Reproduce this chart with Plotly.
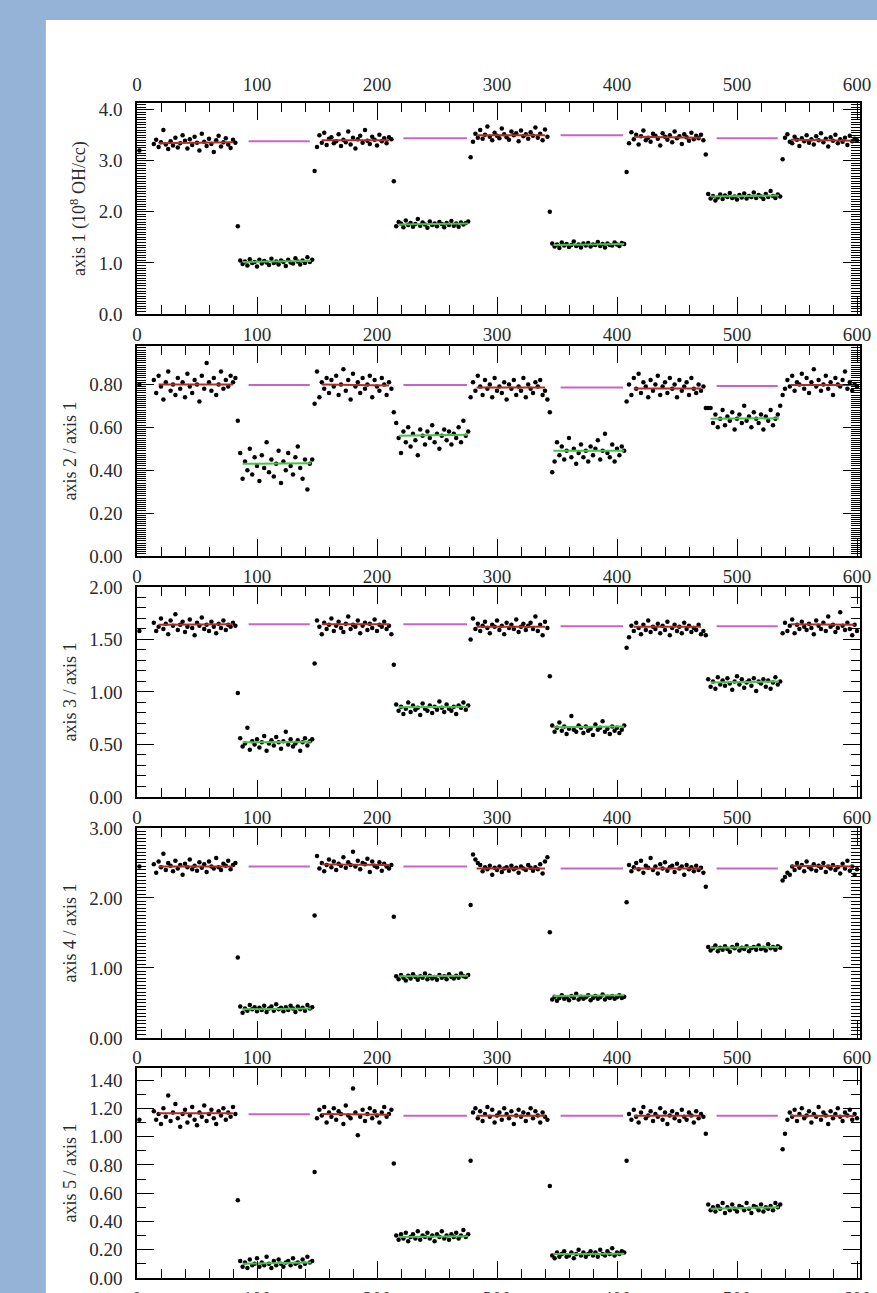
import plotly.graph_objects as go

# sample times (shared by all five panels)
time_x = [2,
    14, 16, 18, 20, 22, 24, 26, 28, 30, 32, 34, 36, 38, 40, 42, 44, 46, 48, 50, 52, 54, 56, 58, 60, 62, 64, 66, 68, 70, 72, 74, 76, 78, 80, 82,
    84,
    86, 88, 90, 92, 94, 96, 98, 100, 102, 104, 106, 108, 110, 112, 114, 116, 118, 120, 122, 124, 126, 128, 130, 132, 134, 136, 138, 140, 142, 144, 146,
    148,
    150, 152, 154, 156, 158, 160, 162, 164, 166, 168, 170, 172, 174, 176, 178, 180, 182, 184, 186, 188, 190, 192, 194, 196, 198, 200, 202, 204, 206, 208, 210, 212,
    214,
    216, 218, 220, 222, 224, 226, 228, 230, 232, 234, 236, 238, 240, 242, 244, 246, 248, 250, 252, 254, 256, 258, 260, 262, 264, 266, 268, 270, 272, 274, 276,
    278,
    280, 282, 284, 286, 288, 290, 292, 294, 296, 298, 300, 302, 304, 306, 308, 310, 312, 314, 316, 318, 320, 322, 324, 326, 328, 330, 332, 334, 336, 338, 340, 342,
    344,
    346, 348, 350, 352, 354, 356, 358, 360, 362, 364, 366, 368, 370, 372, 374, 376, 378, 380, 382, 384, 386, 388, 390, 392, 394, 396, 398, 400, 402, 404, 406,
    408,
    410, 412, 414, 416, 418, 420, 422, 424, 426, 428, 430, 432, 434, 436, 438, 440, 442, 444, 446, 448, 450, 452, 454, 456, 458, 460, 462, 464, 466, 468, 470, 472,
    474,
    476, 478, 480, 482, 484, 486, 488, 490, 492, 494, 496, 498, 500, 502, 504, 506, 508, 510, 512, 514, 516, 518, 520, 522, 524, 526, 528, 530, 532, 534, 536,
    538,
    540, 542, 544, 546, 548, 550, 552, 554, 556, 558, 560, 562, 564, 566, 568, 570, 572, 574, 576, 578, 580, 582, 584, 586, 588, 590, 592, 594, 596, 598, 600]

axis1_y = [3.20,
    3.33, 3.41, 3.27, 3.36, 3.60, 3.32, 3.23, 3.38, 3.30, 3.45, 3.26, 3.34, 3.50, 3.39, 3.24, 3.42, 3.31, 3.47, 3.35, 3.20, 3.53, 3.37, 3.29, 3.43, 3.33, 3.17, 3.40, 3.49, 3.28, 3.36, 3.44, 3.32, 3.25, 3.41, 3.35,
    1.72,
    1.05, 0.98, 1.03, 0.95, 1.07, 1.00, 1.02, 0.93, 1.06, 0.99, 1.04, 1.01, 0.96, 1.08, 1.00, 1.03, 0.97, 1.05, 1.02, 0.94, 1.06, 1.01, 0.99, 1.09, 1.03, 0.97, 1.05, 1.00, 1.11, 1.02, 1.06,
    2.80,
    3.27, 3.50, 3.35, 3.55, 3.31, 3.43, 3.46, 3.34, 3.38, 3.52, 3.29, 3.41, 3.36, 3.57, 3.32, 3.45, 3.24, 3.42, 3.49, 3.35, 3.60, 3.39, 3.33, 3.47, 3.41, 3.30, 3.51, 3.38, 3.44, 3.34, 3.46, 3.42,
    2.60,
    1.72, 1.80, 1.77, 1.70, 1.83, 1.74, 1.78, 1.71, 1.76, 1.86, 1.73, 1.79, 1.75, 1.69, 1.81, 1.74, 1.77, 1.72, 1.80, 1.76, 1.70, 1.78, 1.74, 1.82, 1.73, 1.77, 1.71, 1.79, 1.75, 1.78, 1.81,
    3.07,
    3.37, 3.53, 3.45, 3.60, 3.43, 3.51, 3.67, 3.47, 3.40, 3.55, 3.49, 3.44, 3.63, 3.52, 3.46, 3.41, 3.57, 3.50, 3.54, 3.38, 3.59, 3.48, 3.52, 3.43, 3.56, 3.49, 3.65, 3.45, 3.53, 3.40, 3.61, 3.47,
    2.00,
    1.38, 1.32, 1.36, 1.29, 1.40, 1.34, 1.37, 1.31, 1.35, 1.42, 1.33, 1.36, 1.30, 1.38, 1.34, 1.39, 1.32, 1.36, 1.35, 1.41, 1.33, 1.37, 1.30, 1.38, 1.35, 1.34, 1.40, 1.36, 1.33, 1.39, 1.37,
    2.78,
    3.34, 3.56, 3.42, 3.51, 3.32, 3.48, 3.59, 3.40, 3.45, 3.37, 3.53, 3.49, 3.43, 3.30, 3.54, 3.47, 3.41, 3.50, 3.36, 3.57, 3.44, 3.48, 3.33, 3.52, 3.46, 3.39, 3.55, 3.42, 3.49, 3.44, 3.51, 3.40,
    3.12,
    2.35, 2.26, 2.31, 2.22, 2.28, 2.34, 2.25, 2.32, 2.29, 2.37, 2.27, 2.30, 2.24, 2.33, 2.28, 2.36, 2.26, 2.31, 2.29, 2.38, 2.27, 2.33, 2.30, 2.25, 2.35, 2.29, 2.41, 2.31, 2.27, 2.34, 2.30,
    3.03,
    3.45, 3.52, 3.37, 3.34, 3.47, 3.41, 3.29, 3.44, 3.38, 3.50, 3.35, 3.42, 3.32, 3.48, 3.40, 3.54, 3.36, 3.43, 3.28, 3.46, 3.39, 3.51, 3.34, 3.42, 3.37, 3.45, 3.31, 3.49, 3.38, 3.43, 3.40]

ratio2_y = [0.80,
    0.82, 0.76, 0.84, 0.79, 0.73, 0.81, 0.86, 0.77, 0.80, 0.75, 0.83, 0.78, 0.81, 0.74, 0.85, 0.79, 0.76, 0.82, 0.80, 0.72, 0.84, 0.78, 0.90, 0.81, 0.77, 0.83, 0.75, 0.80, 0.86, 0.78, 0.82, 0.79, 0.84, 0.81, 0.83,
    0.63,
    0.48, 0.36, 0.44, 0.40, 0.50, 0.38, 0.46, 0.42, 0.35, 0.47, 0.41, 0.53, 0.39, 0.45, 0.37, 0.43, 0.49, 0.34, 0.44, 0.40, 0.48, 0.42, 0.38, 0.46, 0.51, 0.41, 0.36, 0.45, 0.31, 0.43, 0.45,
    0.71,
    0.86, 0.74, 0.81, 0.78, 0.83, 0.76, 0.82, 0.79, 0.84, 0.75, 0.80, 0.87, 0.77, 0.82, 0.73, 0.85, 0.79, 0.81, 0.76, 0.83, 0.78, 0.80, 0.84, 0.74, 0.82, 0.79, 0.77, 0.83, 0.80, 0.75, 0.81, 0.78,
    0.67,
    0.62, 0.55, 0.48, 0.58, 0.53, 0.60, 0.51, 0.57, 0.54, 0.47, 0.59, 0.56, 0.52, 0.58, 0.55, 0.61, 0.53, 0.57, 0.50, 0.56, 0.59, 0.54, 0.58, 0.52, 0.57, 0.55, 0.60, 0.53, 0.63, 0.56, 0.58,
    0.74,
    0.81, 0.77, 0.84, 0.79, 0.75, 0.82, 0.78, 0.80, 0.74, 0.83, 0.77, 0.79, 0.76, 0.81, 0.73, 0.80, 0.78, 0.82, 0.75, 0.79, 0.77, 0.83, 0.74, 0.80, 0.78, 0.76, 0.81, 0.79, 0.82, 0.75, 0.77, 0.73,
    0.67,
    0.39, 0.44, 0.53, 0.47, 0.51, 0.45, 0.49, 0.55, 0.46, 0.50, 0.43, 0.48, 0.52, 0.46, 0.49, 0.44, 0.51, 0.47, 0.50, 0.54, 0.45, 0.49, 0.57, 0.48, 0.46, 0.52, 0.44, 0.50, 0.47, 0.51, 0.49,
    0.72,
    0.80, 0.75, 0.83, 0.78, 0.85, 0.76, 0.81, 0.79, 0.74, 0.82, 0.77, 0.80, 0.84, 0.75, 0.79, 0.81, 0.76, 0.83, 0.78, 0.80, 0.74, 0.82, 0.77, 0.79, 0.81, 0.75, 0.83, 0.78, 0.76, 0.80, 0.77, 0.79,
    0.69,
    0.69, 0.69, 0.62, 0.66, 0.60, 0.64, 0.68, 0.61, 0.65, 0.63, 0.67, 0.59, 0.64, 0.66, 0.62, 0.70, 0.63, 0.65, 0.60, 0.67, 0.64, 0.62, 0.66, 0.59, 0.65, 0.63, 0.68, 0.61, 0.64, 0.66, 0.70,
    0.75,
    0.78, 0.82, 0.79, 0.84, 0.77, 0.81, 0.80, 0.85, 0.78, 0.83, 0.76, 0.81, 0.87, 0.79, 0.82, 0.77, 0.80, 0.84, 0.78, 0.81, 0.75, 0.83, 0.80, 0.79, 0.82, 0.86, 0.78, 0.81, 0.77, 0.80, 0.79]

ratio3_y = [1.58,
    1.66, 1.58, 1.62, 1.70, 1.60, 1.65, 1.55, 1.68, 1.63, 1.74, 1.59, 1.64, 1.67, 1.57, 1.62, 1.69, 1.61, 1.54, 1.66, 1.63, 1.71, 1.60, 1.64, 1.58, 1.67, 1.62, 1.56, 1.65, 1.61, 1.68, 1.59, 1.64, 1.62, 1.66, 1.63,
    0.99,
    0.56, 0.48, 0.51, 0.66, 0.45, 0.53, 0.50, 0.55, 0.47, 0.52, 0.58, 0.44, 0.51, 0.54, 0.49, 0.57, 0.52, 0.46, 0.53, 0.62, 0.50, 0.55, 0.48, 0.51, 0.54, 0.44, 0.52, 0.56, 0.49, 0.53, 0.55,
    1.27,
    1.68, 1.62, 1.55, 1.66, 1.60, 1.64, 1.70, 1.58, 1.63, 1.67, 1.61, 1.57, 1.65, 1.72, 1.60, 1.64, 1.62, 1.68, 1.56, 1.63, 1.66, 1.59, 1.65, 1.61, 1.69, 1.58, 1.64, 1.62, 1.67, 1.60, 1.63, 1.55,
    1.26,
    0.88, 0.82, 0.86, 0.79, 0.84, 0.90, 0.81, 0.87, 0.83, 0.85, 0.78, 0.89, 0.84, 0.82, 0.87, 0.80, 0.86, 0.83, 0.91, 0.85, 0.81, 0.88, 0.84, 0.82, 0.86, 0.79, 0.87, 0.85, 0.90, 0.83, 0.87,
    1.50,
    1.70, 1.60, 1.65, 1.58, 1.63, 1.67, 1.61, 1.56, 1.64, 1.62, 1.68, 1.59, 1.63, 1.55, 1.66, 1.61, 1.64, 1.60, 1.69, 1.57, 1.62, 1.65, 1.59, 1.63, 1.66, 1.60, 1.72, 1.58, 1.64, 1.54, 1.67, 1.61,
    1.15,
    0.68, 0.62, 0.66, 0.71, 0.63, 0.67, 0.60, 0.65, 0.77, 0.64, 0.62, 0.68, 0.66, 0.61, 0.67, 0.63, 0.65, 0.59, 0.69, 0.64, 0.66, 0.72, 0.62, 0.65, 0.60, 0.67, 0.63, 0.66, 0.61, 0.64, 0.68,
    1.42,
    1.52, 1.63, 1.58, 1.66, 1.61, 1.55, 1.64, 1.59, 1.68, 1.57, 1.62, 1.60, 1.65, 1.56, 1.63, 1.59, 1.67, 1.54, 1.61, 1.64, 1.58, 1.62, 1.56, 1.66, 1.60, 1.63, 1.57, 1.61, 1.59, 1.64, 1.55, 1.58,
    1.54,
    1.12, 1.05, 1.10, 1.03, 1.14, 1.07, 1.11, 1.06, 1.13, 1.08, 1.02, 1.10, 1.15, 1.07, 1.12, 1.04, 1.09, 1.11, 1.06, 1.13, 1.01, 1.10, 1.08, 1.12, 1.05, 1.11, 1.03, 1.09, 1.14, 1.07, 1.10,
    1.56,
    1.66, 1.58, 1.63, 1.69, 1.56, 1.64, 1.60, 1.67, 1.62, 1.59, 1.65, 1.61, 1.55, 1.68, 1.63, 1.60, 1.66, 1.58, 1.72, 1.62, 1.64, 1.57, 1.61, 1.76, 1.63, 1.59, 1.66, 1.60, 1.54, 1.64, 1.58]

ratio4_y = [2.45,
    2.48, 2.36, 2.52, 2.44, 2.63, 2.40, 2.50, 2.46, 2.38, 2.53, 2.42, 2.47, 2.33, 2.49, 2.44, 2.55, 2.41, 2.46, 2.39, 2.51, 2.43, 2.48, 2.37, 2.52, 2.45, 2.42, 2.57, 2.44, 2.40, 2.49, 2.46, 2.53, 2.41, 2.47, 2.50,
    1.15,
    0.45, 0.36, 0.42, 0.39, 0.47, 0.41, 0.44, 0.38, 0.43, 0.40, 0.46, 0.37, 0.42, 0.45, 0.39, 0.48, 0.41, 0.43, 0.38, 0.44, 0.40, 0.46, 0.42, 0.37, 0.45, 0.41, 0.43, 0.39, 0.47, 0.42, 0.44,
    1.75,
    2.60, 2.42, 2.50, 2.38, 2.47, 2.55, 2.44, 2.52, 2.40, 2.49, 2.46, 2.58, 2.43, 2.51, 2.47, 2.66, 2.45, 2.53, 2.41, 2.50, 2.48, 2.56, 2.37, 2.52, 2.46, 2.44, 2.51, 2.39, 2.49, 2.45, 2.42, 2.47,
    1.73,
    0.88, 0.84, 0.90, 0.86, 0.82, 0.89, 0.85, 0.91, 0.87, 0.83, 0.88, 0.86, 0.92, 0.84, 0.89, 0.85, 0.87, 0.83, 0.90, 0.86, 0.88, 0.84, 0.91, 0.87, 0.85, 0.89, 0.86, 0.92, 0.88, 0.87, 0.90,
    1.90,
    2.62, 2.55, 2.50, 2.47, 2.38, 2.44, 2.41, 2.46, 2.33, 2.43, 2.40, 2.45, 2.37, 2.42, 2.44, 2.39, 2.46, 2.41, 2.43, 2.36, 2.45, 2.42, 2.40, 2.47, 2.43, 2.39, 2.44, 2.41, 2.48, 2.35, 2.52, 2.58,
    1.51,
    0.55, 0.59, 0.53, 0.57, 0.61, 0.56, 0.58, 0.54, 0.60, 0.57, 0.63, 0.55, 0.59, 0.56, 0.58, 0.61, 0.54, 0.57, 0.60, 0.56, 0.58, 0.62, 0.55, 0.59, 0.57, 0.60, 0.56, 0.58, 0.61, 0.57, 0.59,
    1.94,
    2.47, 2.38, 2.44, 2.50, 2.41, 2.53, 2.36, 2.46, 2.43, 2.57, 2.40, 2.45, 2.35, 2.48, 2.42, 2.51, 2.39, 2.44, 2.46, 2.37, 2.49, 2.42, 2.45, 2.33, 2.47, 2.41, 2.44, 2.38, 2.46, 2.40, 2.43, 2.36,
    2.16,
    1.30, 1.25, 1.28, 1.32, 1.24, 1.29, 1.26, 1.31, 1.27, 1.23, 1.30, 1.28, 1.33, 1.25, 1.29, 1.27, 1.31, 1.24, 1.28, 1.30, 1.26, 1.32, 1.27, 1.29, 1.25, 1.34, 1.28, 1.30, 1.26, 1.31, 1.29,
    2.25,
    2.30, 2.36, 2.33, 2.45, 2.40, 2.50, 2.43, 2.47, 2.38, 2.52, 2.44, 2.41, 2.48, 2.39, 2.46, 2.43, 2.50, 2.37, 2.45, 2.42, 2.47, 2.40, 2.44, 2.35, 2.49, 2.42, 2.53, 2.39, 2.45, 2.33, 2.41]

ratio5_y = [1.12,
    1.18, 1.12, 1.16, 1.09, 1.20, 1.14, 1.29, 1.11, 1.17, 1.23, 1.13, 1.07, 1.16, 1.19, 1.10, 1.15, 1.21, 1.12, 1.08, 1.17, 1.14, 1.22, 1.11, 1.16, 1.19, 1.13, 1.09, 1.18, 1.15, 1.20, 1.12, 1.17, 1.14, 1.21, 1.16,
    0.55,
    0.12, 0.08, 0.11, 0.07, 0.13, 0.09, 0.10, 0.14, 0.08, 0.11, 0.09, 0.15, 0.10, 0.07, 0.12, 0.09, 0.13, 0.10, 0.08, 0.11, 0.12, 0.09, 0.14, 0.10, 0.11, 0.08, 0.13, 0.10, 0.15, 0.11, 0.12,
    0.75,
    1.13, 1.19, 1.15, 1.21, 1.10, 1.17, 1.14, 1.20, 1.12, 1.18, 1.16, 1.09, 1.22, 1.15, 1.13, 1.34, 1.17, 1.01, 1.14, 1.19, 1.11, 1.16, 1.20, 1.13, 1.18, 1.15, 1.10, 1.17, 1.21, 1.14, 1.16, 1.19,
    0.81,
    0.30, 0.27, 0.31, 0.28, 0.32, 0.26, 0.29, 0.31, 0.28, 0.33, 0.27, 0.30, 0.29, 0.32, 0.28, 0.30, 0.26, 0.31, 0.29, 0.33, 0.28, 0.30, 0.27, 0.31, 0.29, 0.32, 0.28, 0.30, 0.34, 0.29, 0.31,
    0.83,
    1.17, 1.20, 1.13, 1.18, 1.11, 1.16, 1.21, 1.14, 1.19, 1.10, 1.15, 1.17, 1.12, 1.20, 1.16, 1.13, 1.18, 1.09, 1.15, 1.19, 1.14, 1.17, 1.11, 1.16, 1.20, 1.13, 1.18, 1.15, 1.10, 1.17, 1.14, 1.12,
    0.65,
    0.16, 0.14, 0.18, 0.15, 0.17, 0.19, 0.15, 0.16, 0.18, 0.14, 0.17, 0.20, 0.16, 0.18, 0.15, 0.17, 0.19, 0.16, 0.18, 0.15, 0.20, 0.17, 0.16, 0.19, 0.17, 0.21, 0.16, 0.18, 0.17, 0.19, 0.18,
    0.83,
    1.16, 1.12, 1.19, 1.14, 1.10, 1.17, 1.21, 1.13, 1.15, 1.18, 1.11, 1.16, 1.14, 1.20, 1.12, 1.17, 1.09, 1.15, 1.18, 1.13, 1.16, 1.11, 1.19, 1.14, 1.12, 1.17, 1.15, 1.10, 1.18, 1.13, 1.16, 1.14,
    1.02,
    0.52, 0.48, 0.50, 0.47, 0.51, 0.49, 0.53, 0.46, 0.50, 0.48, 0.52, 0.49, 0.47, 0.51, 0.50, 0.48, 0.53, 0.49, 0.46, 0.51, 0.50, 0.48, 0.52, 0.47, 0.50, 0.49, 0.51, 0.48, 0.53, 0.50, 0.52,
    0.91,
    1.02, 1.12, 1.17, 1.14, 1.19, 1.11, 1.16, 1.20, 1.13, 1.15, 1.18, 1.10, 1.16, 1.14, 1.21, 1.12, 1.17, 1.15, 1.09, 1.18, 1.13, 1.16, 1.20, 1.14, 1.11, 1.17, 1.15, 1.19, 1.12, 1.16, 1.13]

# fitted levels: high-mode (red), low-mode (green), interpolated reference (magenta)
red_x = [(18, 80), (154, 210), (283, 340), (414, 470), (545, 598)]
green_x = [(88, 145), (218, 276), (347, 406), (478, 535)]
magenta_x = [(93, 144), (222, 275), (353, 405), (483, 534)]

red_y = [
    [(3.34, 3.36), (3.40, 3.40), (3.50, 3.50), (3.47, 3.45), (3.41, 3.39)],
    [(0.800, 0.800), (0.800, 0.795), (0.786, 0.786), (0.781, 0.781), (0.797, 0.797)],
    [(1.640, 1.645), (1.645, 1.645), (1.620, 1.620), (1.620, 1.620), (1.645, 1.640)],
    [(2.45, 2.45), (2.48, 2.47), (2.42, 2.42), (2.42, 2.42), (2.46, 2.45)],
    [(1.165, 1.165), (1.160, 1.155), (1.148, 1.148), (1.148, 1.148), (1.148, 1.145)],
]
green_y = [
    [(1.02, 1.04), (1.75, 1.77), (1.35, 1.37), (2.30, 2.32)],
    [(0.430, 0.432), (0.560, 0.565), (0.490, 0.490), (0.640, 0.642)],
    [(0.520, 0.526), (0.855, 0.860), (0.665, 0.670), (1.090, 1.100)],
    [(0.41, 0.42), (0.88, 0.89), (0.60, 0.61), (1.29, 1.30)],
    [(0.100, 0.110), (0.290, 0.295), (0.170, 0.172), (0.490, 0.500)],
]
magenta_y = [
    [3.38, 3.44, 3.50, 3.44],
    [0.797, 0.797, 0.786, 0.793],
    [1.645, 1.645, 1.626, 1.626],
    [2.45, 2.45, 2.42, 2.42],
    [1.158, 1.148, 1.148, 1.148],
]

panel_y = [axis1_y, ratio2_y, ratio3_y, ratio4_y, ratio5_y]
panel_titles = ["axis 1 (10<sup>8</sup> OH/cc)", "axis 2 / axis 1", "axis 3 / axis 1",
                "axis 4 / axis 1", "axis 5 / axis 1"]
y_ranges = [[0, 4.13], [0, 0.979], [0, 2.0], [0, 3.0], [0, 1.485]]
y_dticks = [1.0, 0.2, 0.5, 1.0, 0.2]
y_minor = [0.05, 0.01, 0.1, 0.05, 0.1]
y_formats = [".1f", ".2f", ".2f", ".2f", ".2f"]
x_ticks = [0, 100, 200, 300, 400, 500, 600]

for arr in panel_y:
    assert len(arr) == len(time_x), (len(arr), len(time_x))

domains = [[0.8204, 1.0], [0.6145, 0.7932], [0.4094, 0.5881], [0.2043, 0.3830], [0.0, 0.1787]]

RED = "#ad2f2a"
GREEN = "#4cc04c"
MAGENTA = "#c864c8"
FONT = dict(family="Liberation Serif, Times New Roman, serif", size=19, color="#2a2a2a")


def seg_xy(xpairs, ypairs):
    xs, ys = [], []
    for (a, b), (c, d) in zip(xpairs, ypairs):
        xs += [a, b, None]
        ys += [c, d, None]
    return xs, ys


fig = go.Figure()
for i in range(5):
    xa = "x" if i == 0 else f"x{i+1}"
    ya = "y" if i == 0 else f"y{i+1}"
    fig.add_trace(go.Scatter(x=time_x, y=panel_y[i], mode="markers",
                             marker=dict(color="black", size=4.5, line=dict(width=0)),
                             xaxis=xa, yaxis=ya, showlegend=False))
    for xp, yp, col in [(red_x, red_y[i], RED), (green_x, green_y[i], GREEN),
                        (magenta_x, [(v, v) for v in magenta_y[i]], MAGENTA)]:
        xs, ys = seg_xy(xp, yp)
        fig.add_trace(go.Scatter(x=xs, y=ys, mode="lines", line=dict(color=col, width=2),
                                 xaxis=xa, yaxis=ya, showlegend=False))

# helper trace for the top tick labels of the first panel
fig.add_trace(go.Scatter(x=[0, 600], y=[-10, -10], mode="markers", marker=dict(opacity=0),
                         xaxis="x6", yaxis="y", showlegend=False, hoverinfo="skip"))

layout = dict(
    width=877, height=1293,
    margin=dict(l=137, r=17, t=103, b=15, autoexpand=False),
    paper_bgcolor="#95b3d7",
    plot_bgcolor="white",
    showlegend=False,
    shapes=[dict(type="rect", xref="paper", yref="paper", x0=-0.126, x1=1.1, y0=-0.1, y1=1.0706,
                 fillcolor="white", line=dict(width=0), layer="below")],
)

for i in range(5):
    xkey = "xaxis" if i == 0 else f"xaxis{i+1}"
    ykey = "yaxis" if i == 0 else f"yaxis{i+1}"
    xa = "x" if i == 0 else f"x{i+1}"
    ya = "y" if i == 0 else f"y{i+1}"
    layout[xkey] = dict(
        domain=[0, 1], anchor=ya, range=[0, 602.5], automargin=False,
        tickmode="array", tickvals=x_ticks, ticktext=[str(v) for v in x_ticks],
        ticks="inside", ticklen=17, tickwidth=1.3, tickcolor="black",
        minor=dict(ticks="inside", ticklen=9, dtick=20, tick0=0, tickwidth=1.3, tickcolor="black"),
        showline=True, linecolor="black", linewidth=1.5, mirror="ticks",
        showgrid=False, zeroline=False, tickfont=FONT, ticklabelstandoff=2,
    )
    layout[ykey] = dict(
        domain=domains[i], anchor=xa, range=y_ranges[i], automargin=False,
        tickmode="linear", tick0=0, dtick=y_dticks[i], tickformat=y_formats[i],
        ticks="inside", ticklen=17, tickwidth=1.3, tickcolor="black",
        minor=dict(ticks="inside", ticklen=9, dtick=y_minor[i], tick0=0, tickwidth=1, tickcolor="black"),
        showline=True, linecolor="black", linewidth=1.5, mirror="ticks",
        showgrid=False, zeroline=False, tickfont=FONT, ticklabelstandoff=9,
        title=dict(text=panel_titles[i], font=dict(family=FONT["family"], size=18, color="#2a2a2a"),
                   standoff=8),
    )

layout["xaxis6"] = dict(
    overlaying="x", side="top", anchor="y", range=[0, 602.5], automargin=False,
    tickmode="array", tickvals=x_ticks, ticktext=[str(v) for v in x_ticks],
    ticks="", showline=False, showgrid=False, zeroline=False,
    tickfont=FONT, ticklabelstandoff=7,
)

fig.update_layout(**layout)
fig.write_html("out.html")
